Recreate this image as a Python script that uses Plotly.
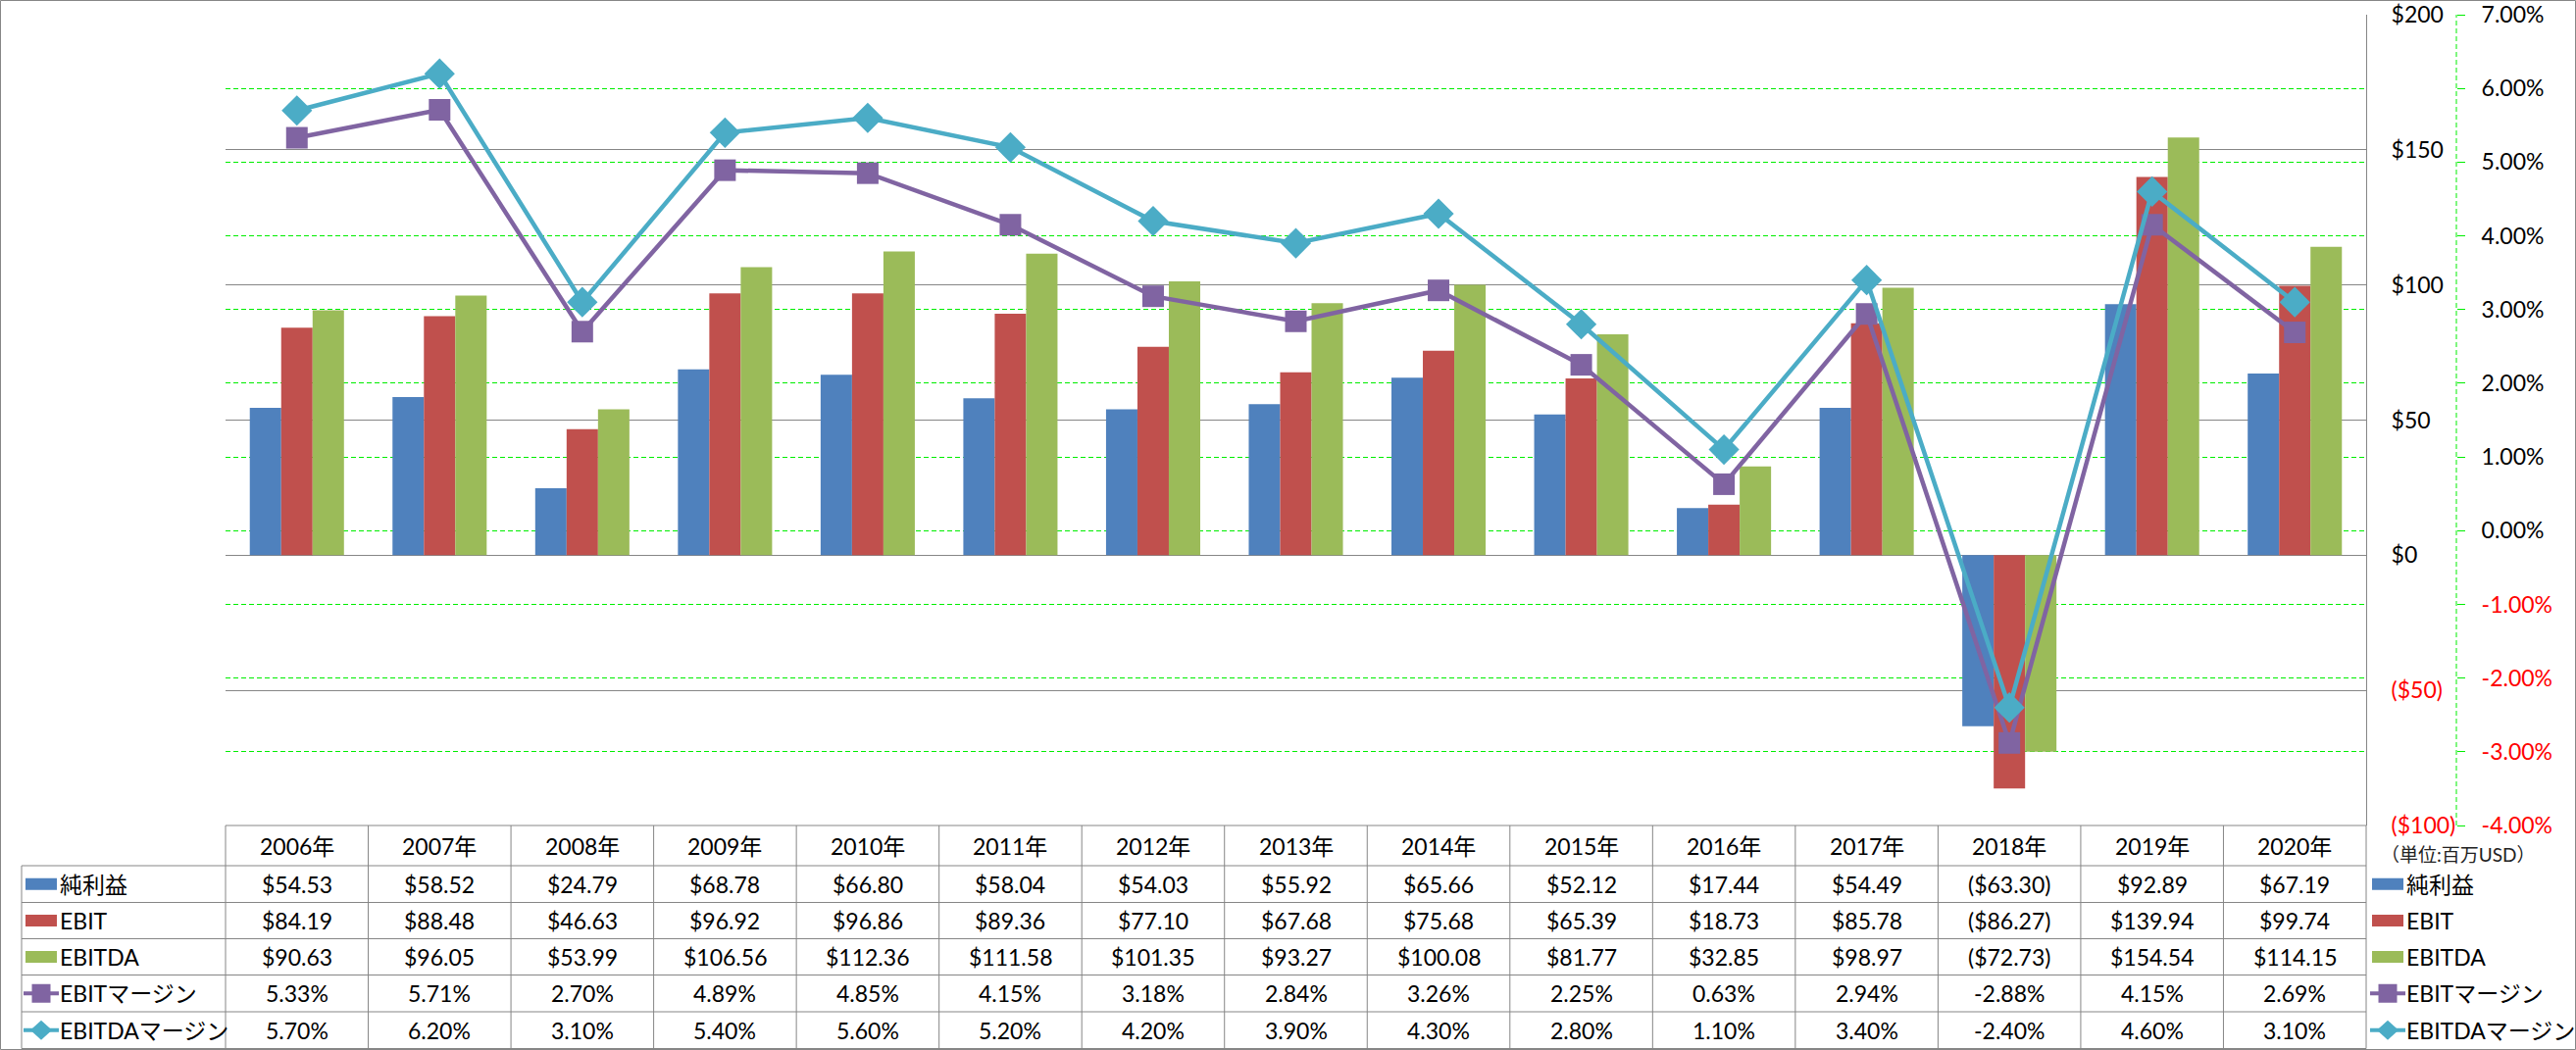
import plotly.graph_objects as go

# ---------------- data ----------------
years = ["2006年", "2007年", "2008年", "2009年", "2010年", "2011年", "2012年", "2013年",
         "2014年", "2015年", "2016年", "2017年", "2018年", "2019年", "2020年"]
net_income = [54.53, 58.52, 24.79, 68.78, 66.80, 58.04, 54.03, 55.92, 65.66, 52.12, 17.44, 54.49, -63.30, 92.89, 67.19]
ebit = [84.19, 88.48, 46.63, 96.92, 96.86, 89.36, 77.10, 67.68, 75.68, 65.39, 18.73, 85.78, -86.27, 139.94, 99.74]
ebitda = [90.63, 96.05, 53.99, 106.56, 112.36, 111.58, 101.35, 93.27, 100.08, 81.77, 32.85, 98.97, -72.73, 154.54, 114.15]
ebit_margin = [5.33, 5.71, 2.70, 4.89, 4.85, 4.15, 3.18, 2.84, 3.26, 2.25, 0.63, 2.94, -2.88, 4.15, 2.69]
ebitda_margin = [5.70, 6.20, 3.10, 5.40, 5.60, 5.20, 4.20, 3.90, 4.30, 2.80, 1.10, 3.40, -2.40, 4.60, 3.10]

series_names = ["純利益", "EBIT", "EBITDA", "EBITマージン", "EBITDAマージン"]
usd_ticks = [-100, -50, 0, 50, 100, 150, 200]
pct_ticks = [-4, -3, -2, -1, 0, 1, 2, 3, 4, 5, 6, 7]
unit_note = "（単位:百万USD）"

# ---------------- styles ----------------
C_BLUE, C_RED, C_GREEN, C_PURPLE, C_TEAL = "#4F81BD", "#C0504D", "#9BBB59", "#8064A2", "#4BACC6"
GRAY = "#868686"
GREEN_GRID = "#00ee00"
FONT = "Lato, 'Noto Sans CJK JP', sans-serif"
FS = 23
TFS = 23

W, H = 2627, 1071
L, R, T, B = 230, 122, 15, 229
PW, PH = W - L - R, H - T - B
X_END_PX = 2413
XEND = (X_END_PX - L) / PW


def px(x):
    return (x - L) / PW


def py(y):
    return (H - B - y) / PH


def usd(v):
    return f"${v:.2f}" if v >= 0 else f"(${-v:.2f})"


def pct(v):
    return f"{v:.2f}%"


def red(s, neg):
    return f"<span style='color:#ff0000'>{s}</span>" if neg else s


fig = go.Figure()
fig.add_bar(x=years, y=net_income, name=series_names[0], marker=dict(color=C_BLUE, line=dict(width=0)))
fig.add_bar(x=years, y=ebit, name=series_names[1], marker=dict(color=C_RED, line=dict(width=0)))
fig.add_bar(x=years, y=ebitda, name=series_names[2], marker=dict(color=C_GREEN, line=dict(width=0)))
fig.add_scatter(x=years, y=ebit_margin, name=series_names[3], yaxis="y2", mode="lines+markers",
                line=dict(color=C_PURPLE, width=4.5),
                marker=dict(symbol="square", size=22, color=C_PURPLE))
fig.add_scatter(x=years, y=ebitda_margin, name=series_names[4], yaxis="y2", mode="lines+markers",
                line=dict(color=C_TEAL, width=4.5),
                marker=dict(symbol="diamond", size=24, color=C_TEAL))

usd_text = [red("$" + str(v) if v >= 0 else f"(${-v})", v < 0) for v in usd_ticks]
pct_text = [red(f"{v:.2f}%", v < 0) for v in pct_ticks]

shapes = []
annotations = []

# outer chart border
shapes.append(dict(type="rect", xref="paper", yref="paper", x0=px(0.5), x1=px(W - 0.5),
                   y0=py(0.5), y1=py(H - 0.5), line=dict(color=GRAY, width=1), layer="above"))
# dashed secondary axis line
shapes.append(dict(type="line", xref="paper", yref="paper", x0=1, x1=1, y0=0, y1=1,
                   line=dict(color=GREEN_GRID, width=1, dash="5px,3px")))

# ---------------- data table ----------------
row_edges = [842, 883, 920.5, 957.5, 994.5, 1032, 1069.5]
ncol = len(years)
shapes.append(dict(type="line", xref="paper", yref="paper", x0=0, x1=XEND,
                   y0=py(row_edges[0]), y1=py(row_edges[0]), line=dict(color=GRAY, width=1)))
for ye in row_edges[1:]:
    shapes.append(dict(type="line", xref="paper", yref="paper", x0=px(22), x1=XEND,
                       y0=py(ye), y1=py(ye), line=dict(color=GRAY, width=1)))
for k in range(ncol + 1):
    xx = XEND * k / ncol
    shapes.append(dict(type="line", xref="paper", yref="paper", x0=xx, x1=xx,
                       y0=py(row_edges[0]), y1=py(row_edges[-1]), line=dict(color=GRAY, width=1)))
shapes.append(dict(type="line", xref="paper", yref="paper", x0=px(22), x1=px(22),
                   y0=py(row_edges[1]), y1=py(row_edges[-1]), line=dict(color=GRAY, width=1)))

centers = [(row_edges[i] + row_edges[i + 1]) / 2 for i in range(len(row_edges) - 1)]
for i, yr in enumerate(years):
    annotations.append(dict(x=yr, xref="x", y=py(centers[0]), yref="paper", text=yr,
                            xanchor="center", yanchor="middle",
                            showarrow=False, font=dict(size=FS, color="black", family=FONT)))

rows = [(net_income, usd), (ebit, usd), (ebitda, usd), (ebit_margin, pct), (ebitda_margin, pct)]
for r, (vals, fmt) in enumerate(rows):
    for i, yr in enumerate(years):
        annotations.append(dict(x=yr, xref="x", y=py(centers[r + 1]), yref="paper", text=fmt(vals[i]),
                                xanchor="center", yanchor="middle",
                                showarrow=False, font=dict(size=FS, color="black", family=FONT)))

key_specs = [("bar", C_BLUE), ("bar", C_RED), ("bar", C_GREEN), ("square", C_PURPLE), ("diamond", C_TEAL)]


def add_key(kind, color, x0, x1, yc, textx, label):
    if kind == "bar":
        shapes.append(dict(type="rect", xref="paper", yref="paper", x0=px(x0), x1=px(x1),
                           y0=py(yc + 6), y1=py(yc - 6), fillcolor=color, line=dict(width=0)))
    else:
        shapes.append(dict(type="line", xref="paper", yref="paper", x0=px(x0 - 2), x1=px(x1 + 2),
                           y0=py(yc), y1=py(yc), line=dict(color=color, width=4)))
        xc = (x0 + x1) / 2
        if kind == "square":
            shapes.append(dict(type="rect", xref="paper", yref="paper", x0=px(xc - 9.5), x1=px(xc + 9.5),
                               y0=py(yc + 9.5), y1=py(yc - 9.5), fillcolor=color, line=dict(width=0)))
        else:
            path = (f"M {px(xc - 11)},{py(yc)} L {px(xc)},{py(yc - 10)} "
                    f"L {px(xc + 11)},{py(yc)} L {px(xc)},{py(yc + 10)} Z")
            shapes.append(dict(type="path", xref="paper", yref="paper", path=path,
                               fillcolor=color, line=dict(width=0)))
    annotations.append(dict(x=px(textx), xref="paper", y=py(yc), yref="paper", text=label,
                            xanchor="left", yanchor="middle", showarrow=False,
                            font=dict(size=FS, color="black", family=FONT)))


for r, (kind, color) in enumerate(key_specs):
    add_key(kind, color, 26, 58, centers[r + 1], 59, series_names[r])
    add_key(kind, color, 2419, 2451, centers[r + 1], 2452, series_names[r])

annotations.append(dict(x=px(2506), xref="paper", y=py(871), yref="paper", text=unit_note,
                        xanchor="center", yanchor="middle",
                        showarrow=False, font=dict(size=19, color="#222222", family=FONT)))

fig.update_layout(
    width=W, height=H,
    template="none",
    paper_bgcolor="white", plot_bgcolor="white",
    margin=dict(l=L, r=R, t=T, b=B, pad=0),
    barmode="group", bargap=0.34, bargroupgap=0,
    showlegend=False,
    font=dict(family=FONT, size=FS, color="black"),
    xaxis=dict(domain=[0, XEND], range=[-0.5, len(years) - 0.5], showticklabels=False,
               showgrid=False, zeroline=False, showline=False, ticks="", automargin=False),
    yaxis=dict(side="right", anchor="x", range=[-100, 200], tickvals=usd_ticks, ticktext=usd_text,
               showgrid=True, gridcolor=GRAY, gridwidth=1, zeroline=False,
               showline=True, linecolor=GRAY, linewidth=1,
               ticks="outside", ticklen=20, tickcolor="rgba(0,0,0,0)", ticklabeloverflow="allow",
               tickfont=dict(size=TFS, family=FONT, color="black"), automargin=False),
    yaxis2=dict(overlaying="y", side="right", anchor="free", position=1, range=[-4, 7],
                tickvals=pct_ticks, ticktext=pct_text,
                showgrid=True, gridcolor=GREEN_GRID, gridwidth=1, griddash="5px,3px",
                zeroline=False, showline=False, ticklabeloverflow="allow",
                ticks="outside", ticklen=8, tickcolor=GREEN_GRID, tickwidth=1,
                ticklabelstandoff=12,
                tickfont=dict(size=TFS, family=FONT, color="black"), automargin=False),
    shapes=shapes,
    annotations=annotations,
)

fig.write_html("out.html", config={"displayModeBar": False},
               post_script="document.body.style.margin='0';document.body.style.overflow='hidden';")
